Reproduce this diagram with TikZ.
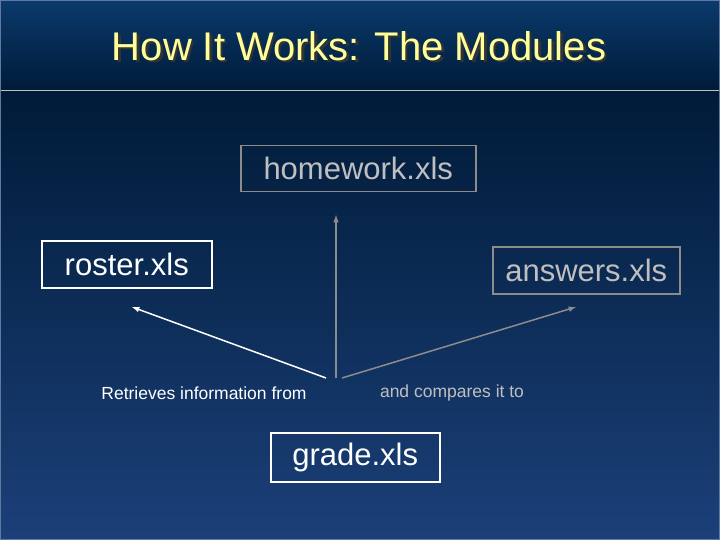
\documentclass[tikz,border=0pt]{standalone}
\usepackage{fontspec}
\setmainfont{Liberation Sans}
\usetikzlibrary{positioning}
\definecolor{navytop}{HTML}{0A3A6C}
\definecolor{navymid}{HTML}{001B38}
\definecolor{navybot}{HTML}{1B4079}
\definecolor{titleyel}{HTML}{FFFF99}
\definecolor{dimgray}{HTML}{8C8C8C}
\tikzset{
  filebox/.style={draw=white,line width=1.5pt,text=white,font=\fontsize{31}{36}\selectfont,inner sep=0pt,anchor=north west},
  dimbox/.style={filebox,draw=dimgray,text=lightgray},
  note/.style={font=\fontsize{17.5}{20}\selectfont,text=white}
}
\begin{document}
\begin{tikzpicture}[x=1pt,y=-1pt]
		% background
		\useasboundingbox (0,0) rectangle (720,540);
		\shade[top color=navytop,bottom color=navymid] (0,0) rectangle (720,90);
		\shade[top color=navymid,bottom color=navybot] (0,90) rectangle (720,540);
		\draw[lightgray,line width=0.8pt] (0,90) -- (720,90);
		\draw[navybot!70!white,line width=1pt] (0.5,0.5) rectangle (719.5,539.5);
		% title
		\node[text=black!80,font=\fontsize{40}{46}\selectfont] at (361.5,48.5) {How It Works: The Modules};
		\node (title) [text=titleyel,font=\fontsize{40}{46}\selectfont] at (359,46) {How It Works: The Modules};
		% modules
		\node (homework) [dimbox,minimum width=235,minimum height=46] at (240,145) {homework.xls};
		\node (roster) [filebox,minimum width=170,minimum height=47] at (41,240) {roster.xls};
		\node (answers) [dimbox,minimum width=187,minimum height=47] at (492,246) {answers.xls};
		\node (grade) [filebox,minimum width=169,minimum height=49] at (270,432) {grade.xls};
		% connectors
		\coordinate (hubl) at (326,378);
		\coordinate (hubm) at (336,378);
		\coordinate (hubr) at (342,378);
		\coordinate (rosterend) at (132,307);
		\coordinate (homeend) at (336,215);
		\coordinate (answersend) at (576,307);
		\draw[white,line width=1.5pt,-latex] (hubl) -- (rosterend);
		\draw[dimgray,line width=1.5pt,-latex] (hubm) -- (homeend);
		\draw[dimgray,line width=1.5pt,-latex] (hubr) -- (answersend);
		% labels
		\node (retrieves) [note] at (204,393) {Retrieves information from};
		\node (compares) [note,text=lightgray] at (452,393) {and compares it to};
\end{tikzpicture}
\end{document}
